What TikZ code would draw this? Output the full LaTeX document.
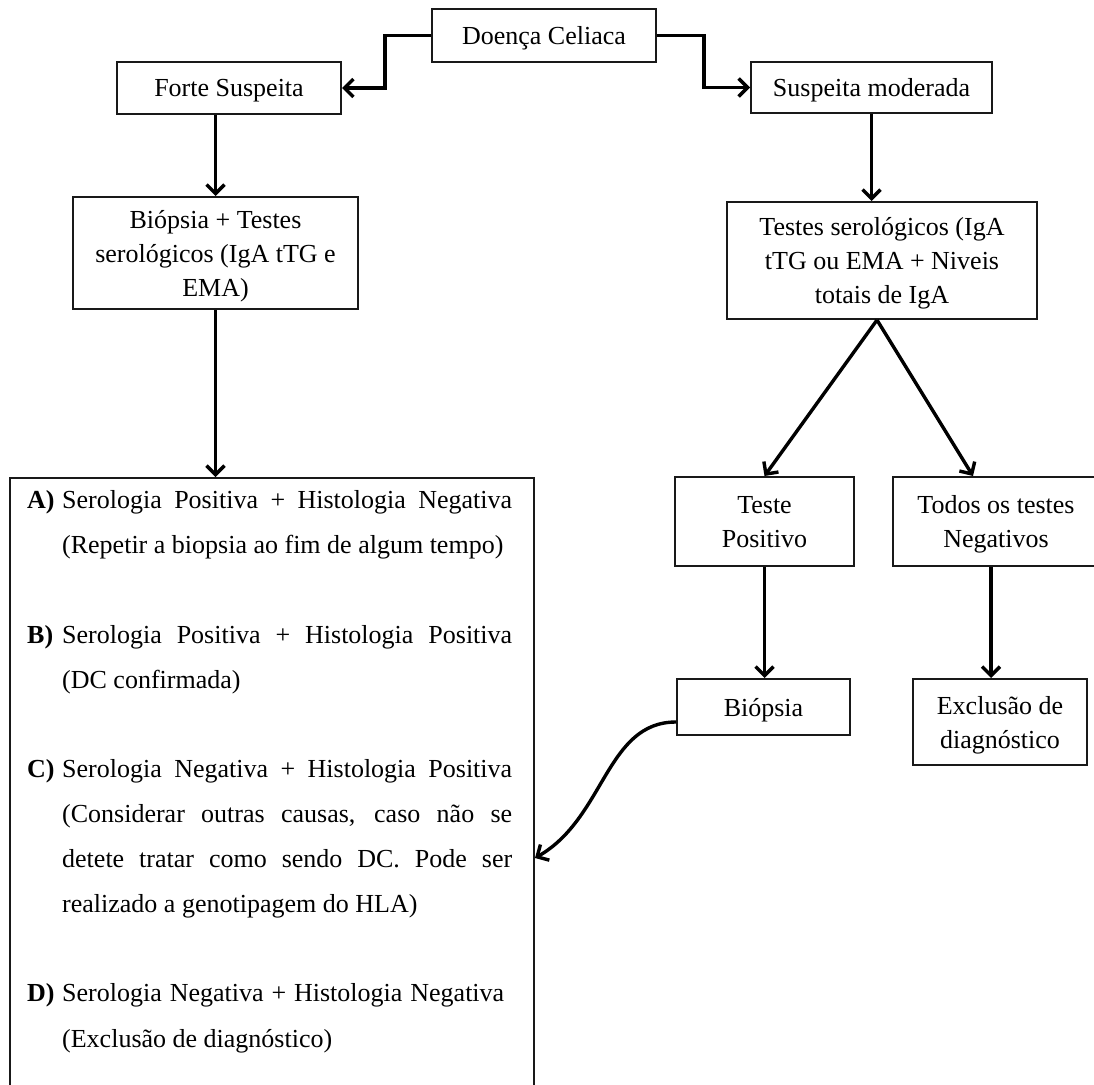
\documentclass[tikz,border=0pt]{standalone}
\usepackage{fontspec}
\setmainfont{Liberation Serif}
\usetikzlibrary{arrows.meta}
\begin{document}
\begin{tikzpicture}[x=1pt,y=-1pt,
  txt/.style={font=\fontsize{26}{34}\selectfont},
  box/.style={txt,draw=black!90,line width=2pt,inner sep=0pt,align=center,text depth=0pt},
  line/.style={txt,inner sep=0pt,anchor=base west},
  conn/.style={line width=3.4pt,-{Straight Barb[length=9pt,width=18pt,line width=3.4pt]}}]
\useasboundingbox (0,0) rectangle (1094,1084);
\clip (0,0) rectangle (1094,1084);
% boxes
\node[box,minimum width=224pt,minimum height=53pt] (dc) at (544,35.5) {Doença Celiaca};
\node[box,minimum width=224pt,minimum height=52pt] (fs) at (229,88) {Forte Suspeita};
\node[box,minimum width=241pt,minimum height=51pt] (sm) at (871.5,87.5) {Suspeita moderada};
\node[box,minimum width=285pt,minimum height=112pt] (bt) at (215.5,253) {Biópsia + Testes\\serológicos (IgA tTG e\\EMA)};
\node[box,minimum width=310pt,minimum height=117pt] (ts) at (882,260.5) {Testes serológicos (IgA\\tTG ou EMA + Niveis\\totais de IgA};
\node[box,minimum width=179pt,minimum height=89pt] (tp) at (764.5,521.5) {Teste\\Positivo};
\node[box,minimum width=206pt,minimum height=89pt] (td) at (996,521.5) {Todos os testes\\Negativos};
\node[box,minimum width=173pt,minimum height=56pt] (bi) at (763.5,707) {Biópsia};
\node[box,minimum width=174pt,minimum height=86pt] (ex) at (1000,722) {Exclusão de\\diagnóstico};
\node[box,minimum width=524pt,minimum height=640pt,anchor=north west] (res) at (9,477) {};
% result text
\node[line] (la) at (27,508) {\textbf{A)}};
\node[line] (l1) at (62,508) {\makebox[450pt][s]{Serologia Positiva + Histologia Negativa}};
\node[line] (l2) at (62,553) {(Repetir a biopsia ao fim de algum tempo)};
\node[line] (lb) at (27,643) {\textbf{B)}};
\node[line] (l3) at (62,643) {\makebox[450pt][s]{Serologia Positiva + Histologia Positiva}};
\node[line] (l4) at (62,688) {(DC confirmada)};
\node[line] (lc) at (27,777) {\textbf{C)}};
\node[line] (l5) at (62,777) {\makebox[450pt][s]{Serologia Negativa + Histologia Positiva}};
\node[line] (l6) at (62,822) {\makebox[450pt][s]{(Considerar outras causas, caso não se}};
\node[line] (l7) at (62,867) {\makebox[450pt][s]{detete tratar como sendo DC. Pode ser}};
\node[line] (l8) at (62,912) {realizado a genotipagem do HLA)};
\node[line] (ld) at (27,1001) {\textbf{D)}};
\node[line] (l9) at (62,1001) {\makebox[442pt][s]{Serologia Negativa + Histologia Negativa}};
\node[line] (l10) at (62,1047) {(Exclusão de diagnóstico)};
% connectors
\draw[conn] (dc.west) -- ++(-46,0) |- (fs.east);
\draw[conn] (dc.east) -- ++(47,0) |- (sm.west);
\draw[conn] (fs.south -| bt.north) -- (bt.north);
\draw[conn] (sm.south) -- (sm.south |- ts.north);
\draw[conn] (bt.south) -- (bt.south |- res.north);
\draw[conn] ([xshift=-5pt]ts.south) -- (tp.north);
\draw[conn] ([xshift=-5pt]ts.south) -- ([xshift=-23pt]td.north);
\draw[conn] (tp.south) -- (tp.south |- bi.north);
\draw[conn] ([xshift=-5pt]td.south) -- ([xshift=-5pt]td.south |- ex.north);
\draw[conn] ([yshift=-15pt]bi.west) .. controls +(-70,0) and +(70,-40) .. ([yshift=-381pt]res.north east);
\end{tikzpicture}
\end{document}
